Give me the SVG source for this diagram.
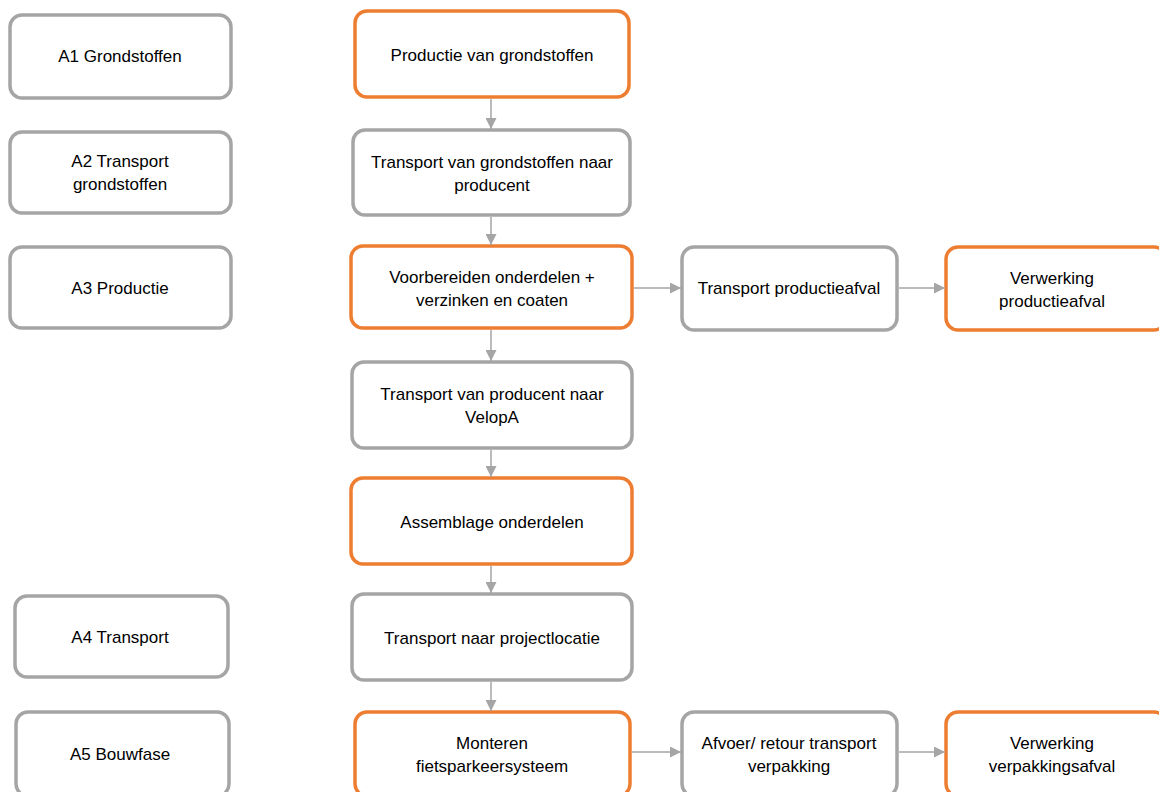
<svg xmlns="http://www.w3.org/2000/svg" width="1159" height="792" viewBox="0 0 1159 792">
<defs>
<style>
.g{fill:#fff;stroke:#a5a5a5;stroke-width:3.5}
.o{fill:#fff;stroke:#ed7d31;stroke-width:3.5}
text{font-family:"Liberation Sans",Arial,sans-serif;font-size:17px;fill:#000;text-anchor:middle}
.c line{stroke:#a5a5a5;stroke-width:1.5}
</style>
<marker id="a" viewBox="0 0 10 10" refX="10" refY="5" markerWidth="11" markerHeight="11" markerUnits="userSpaceOnUse" orient="auto"><path d="M0,0L10,5L0,10z" fill="#a5a5a5"/></marker>
</defs>
<rect width="1159" height="792" fill="#fff"/>
<g id="a1"><rect class="g" x="10" y="15" width="221" height="83" rx="12"/><text x="120" y="62">A1 Grondstoffen</text></g>
<g id="a2"><rect class="g" x="10" y="132" width="221" height="81" rx="12"/><text x="120" y="167">A2 Transport</text><text x="120" y="190">grondstoffen</text></g>
<g id="a3"><rect class="g" x="10" y="247" width="221" height="81" rx="12"/><text x="120" y="294">A3 Productie</text></g>
<g id="a4"><rect class="g" x="15" y="596" width="213" height="81" rx="12"/><text x="120" y="643">A4 Transport</text></g>
<g id="a5"><rect class="g" x="16" y="712" width="213" height="84" rx="12"/><text x="120" y="760">A5 Bouwfase</text></g>

<g id="n1"><rect class="o" x="355" y="11" width="274" height="86" rx="12"/><text x="492" y="61">Productie van grondstoffen</text></g>
<g id="n2"><rect class="g" x="353" y="130" width="277" height="85" rx="12"/><text x="492" y="168">Transport van grondstoffen naar</text><text x="492" y="191">producent</text></g>
<g id="n3"><rect class="o" x="351" y="246" width="281" height="82" rx="12"/><text x="492" y="283">Voorbereiden onderdelen +</text><text x="492" y="306">verzinken en coaten</text></g>
<g id="n4"><rect class="g" x="352" y="362" width="280" height="86" rx="12"/><text x="492" y="400">Transport van producent naar</text><text x="492" y="423">VelopA</text></g>
<g id="n5"><rect class="o" x="351" y="478" width="281" height="86" rx="12"/><text x="492" y="528">Assemblage onderdelen</text></g>
<g id="n6"><rect class="g" x="352" y="594" width="280" height="86" rx="12"/><text x="492" y="644">Transport naar projectlocatie</text></g>
<g id="n7"><rect class="o" x="355" y="712" width="275" height="84" rx="12"/><text x="492" y="749">Monteren</text><text x="492" y="772">fietsparkeersysteem</text></g>

<g id="n8"><rect class="g" x="682" y="247" width="215" height="83" rx="12"/><text x="789" y="294">Transport productieafval</text></g>
<g id="n9"><rect class="o" x="946" y="247" width="220" height="83" rx="12"/><text x="1052" y="284">Verwerking</text><text x="1052" y="307">productieafval</text></g>
<g id="n10"><rect class="g" x="682" y="712" width="215" height="84" rx="12"/><text x="789" y="749">Afvoer/ retour transport</text><text x="789" y="772">verpakking</text></g>
<g id="n11"><rect class="o" x="946" y="712" width="220" height="84" rx="12"/><text x="1052" y="749">Verwerking</text><text x="1052" y="772">verpakkingsafval</text></g>

<g id="connectors" class="c">
<line x1="491" y1="99" x2="491" y2="129" marker-end="url(#a)"/>
<line x1="491" y1="217" x2="491" y2="245" marker-end="url(#a)"/>
<line x1="491" y1="330" x2="491" y2="361" marker-end="url(#a)"/>
<line x1="491" y1="450" x2="491" y2="477" marker-end="url(#a)"/>
<line x1="491" y1="566" x2="491" y2="593" marker-end="url(#a)"/>
<line x1="491" y1="682" x2="491" y2="711" marker-end="url(#a)"/>
<line x1="634" y1="288" x2="681" y2="288" marker-end="url(#a)"/>
<line x1="899" y1="288" x2="945" y2="288" marker-end="url(#a)"/>
<line x1="632" y1="752" x2="681" y2="752" marker-end="url(#a)"/>
<line x1="899" y1="752" x2="945" y2="752" marker-end="url(#a)"/>
</g>
</svg>
